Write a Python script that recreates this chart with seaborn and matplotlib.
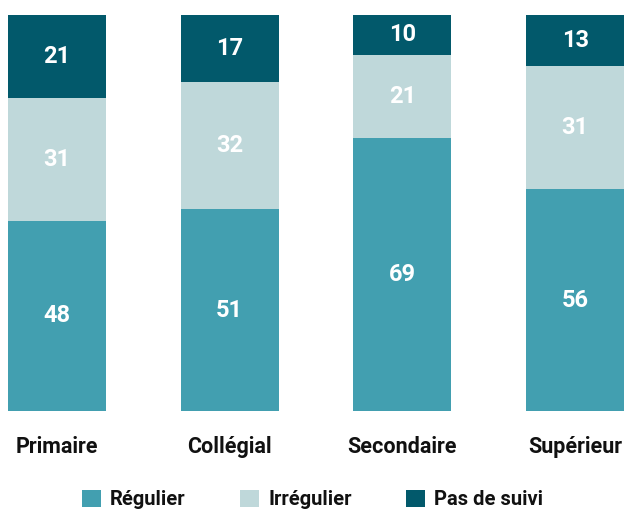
import numpy as np
import pandas as pd
import seaborn as sns
import matplotlib.pyplot as plt
from matplotlib.patches import Patch

categories = ['Primaire', 'Collégial', 'Secondaire', 'Supérieur']
regulier = [48, 51, 69, 56]
irregulier = [31, 32, 21, 31]
pas_de_suivi = [21, 17, 10, 13]
series_names = ['Régulier', 'Irrégulier', 'Pas de suivi']
colors = ['#429fb0', '#bfd8da', '#02596b']

sns.set_style('white')
plt.rcParams['font.family'] = ['Roboto', 'DejaVu Sans']

fig = plt.figure(figsize=(6.25, 5.12), dpi=100)
ax = fig.add_axes([8 / 625, 101 / 512, 616 / 625, 396 / 512])

bottom = np.zeros(len(categories))
for name, vals, col in zip(series_names, [regulier, irregulier, pas_de_suivi], colors):
    df = pd.DataFrame({'cat': categories, 'val': vals})
    sns.barplot(data=df, x='cat', y='val', color=col, width=0.566,
                bottom=bottom, ax=ax, linewidth=0, saturation=1)
    for i, v in enumerate(vals):
        ax.text(i, bottom[i] + v / 2, str(v), ha='center', va='center',
                color='white', fontsize=17, fontweight='bold')
    bottom = bottom + np.array(vals)

ax.set_xlim(-0.283, 3.283)
ax.set_ylim(0, 100)
ax.set_xlabel('')
ax.set_ylabel('')
ax.set_yticks([])
ax.tick_params(axis='x', length=0, pad=18, labelsize=15.5)
for lbl in ax.get_xticklabels():
    lbl.set_fontweight('bold')
    lbl.set_color('#111111')
sns.despine(ax=ax, left=True, bottom=True)

handles = [Patch(facecolor=c, edgecolor='none') for c in colors]
fig.legend(handles, series_names, loc='lower center', bbox_to_anchor=(0.5, -0.03),
           ncol=3, frameon=False, handlelength=0.95, handleheight=0.95,
           handletextpad=0.45, columnspacing=2.7,
           prop={'weight': 'bold', 'size': 14.5}, labelcolor='#111111')

fig.savefig('out.png', dpi=100)
